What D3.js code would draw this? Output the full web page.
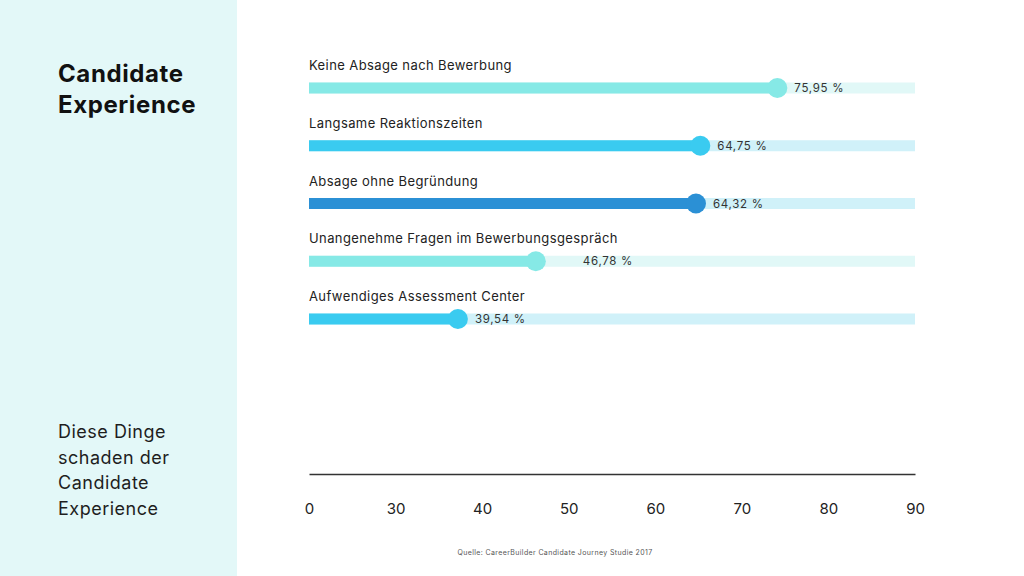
<!DOCTYPE html>
<html>
<head>
<meta charset="utf-8">
<script src="https://cdn.jsdelivr.net/npm/d3@7"></script>
<style>
  body { margin: 0; background: #fff; }
  svg { display: block; font-family: Inter, "Noto Sans", sans-serif; }
</style>
</head>
<body>
<svg id="chart" width="1024" height="576"></svg>
<script>
// data
var categories = [
  "Keine Absage nach Bewerbung",
  "Langsame Reaktionszeiten",
  "Absage ohne Begründung",
  "Unangenehme Fragen im Bewerbungsgespräch",
  "Aufwendiges Assessment Center"
];
var values = [75.95, 64.75, 64.32, 46.78, 39.54];
// where the slider knob sits in axis units
var knobPositions = [74.1, 65.2, 64.7, 46.2, 37.2];
var tickLabels = [0, 30, 40, 50, 60, 70, 80, 90];
var barColors = ["#86e9e6", "#3acbf0", "#2b90d5", "#86e9e6", "#3acbf0"];
var trackColors = ["#e1f8f7", "#d0f1f9", "#d0f1f9", "#e1f8f7", "#d0f1f9"];

var svg = d3.select("#chart");

// left panel
svg.append("rect").attr("x", 0).attr("y", 0).attr("width", 237).attr("height", 576).attr("fill", "#e3f8f8");

var title = svg.append("text").attr("x", 58).attr("y", 82)
  .attr("font-size", 24).attr("font-weight", 700).attr("fill", "#111").attr("letter-spacing", 0.6);
title.append("tspan").attr("x", 58).text("Candidate");
title.append("tspan").attr("x", 58).attr("dy", 31).text("Experience");

var sub = svg.append("text").attr("y", 438)
  .attr("font-size", 18).attr("fill", "#1e1e1e").attr("letter-spacing", 0.5);
["Diese Dinge", "schaden der", "Candidate", "Experience"].forEach(function (t, i) {
  sub.append("tspan").attr("x", 58).attr("dy", i === 0 ? 0 : 25.5).text(t);
});

// scales: the axis labels are evenly spaced, so x is piecewise through them
var tickScale = d3.scalePoint().domain(tickLabels).range([309, 915]);
var x = d3.scaleLinear().domain(tickLabels).range(tickLabels.map(function (t) { return tickScale(t); }));
var y = d3.scalePoint().domain(categories).range([88, 319]);
var barH = 11;

var rows = svg.selectAll(".row").data(categories).enter().append("g")
  .attr("class", "row")
  .attr("transform", function (d) { return "translate(0," + y(d) + ")"; });

rows.append("text")
  .attr("x", x(0)).attr("y", -18)
  .attr("font-size", 13).attr("fill", "#222").attr("letter-spacing", 0.4)
  .text(function (d) { return d; });

rows.append("rect")
  .attr("x", x(0)).attr("y", -barH / 2)
  .attr("width", x(90) - x(0)).attr("height", barH)
  .attr("fill", function (d, i) { return trackColors[i]; });

rows.append("rect")
  .attr("x", x(0)).attr("y", -barH / 2)
  .attr("width", function (d, i) { return x(knobPositions[i]) - x(0); }).attr("height", barH)
  .attr("fill", function (d, i) { return barColors[i]; });

rows.append("circle")
  .attr("cx", function (d, i) { return x(knobPositions[i]); })
  .attr("r", 10)
  .attr("fill", function (d, i) { return barColors[i]; });

var fmt = function (v) { return d3.format(".2f")(v).replace(".", ",") + " %"; };
rows.append("text")
  .attr("x", function (d, i) { return x(knobPositions[i]) + (i === 3 ? 47 : 17); })
  .attr("y", 4)
  .attr("font-size", 11.5).attr("fill", "#333").attr("letter-spacing", 0.7)
  .text(function (d, i) { return fmt(values[i]); });

// axis
var axis = svg.append("g")
  .attr("transform", "translate(0,474)")
  .call(d3.axisBottom(tickScale).tickSize(0).tickSizeOuter(0).tickPadding(29));
axis.select(".domain").attr("stroke", "#333").attr("stroke-width", 1.5);
axis.selectAll("text").attr("font-size", 15).attr("fill", "#222")
  .attr("font-family", "Inter, sans-serif");

// source
svg.append("text").attr("x", 555).attr("y", 555).attr("text-anchor", "middle")
  .attr("font-size", 7).attr("fill", "#555").attr("letter-spacing", 0.38)
  .text("Quelle: CareerBuilder Candidate Journey Studie 2017");
</script>
</body>
</html>
